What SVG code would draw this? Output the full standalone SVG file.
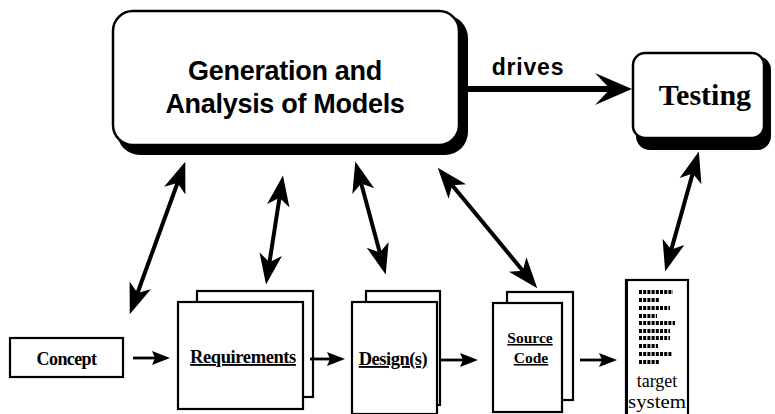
<svg xmlns="http://www.w3.org/2000/svg" width="775" height="414" viewBox="0 0 775 414">
<style>
.sans{font-family:"Liberation Sans",Arial,sans-serif;font-weight:bold;fill:#000}
.serif{font-family:"Liberation Serif","Times New Roman",serif;fill:#000}
.b{font-weight:bold}
.u{text-decoration:underline}
.box{fill:#fff;stroke:#000;stroke-width:2.5}
.shadow{fill:#000}
.page{fill:#fff;stroke:#000;stroke-width:2.2}
.bi{stroke:#000;stroke-width:4;fill:none;marker-start:url(#mb);marker-end:url(#mb)}
.h{stroke:#000;stroke-width:2.8;fill:none;marker-end:url(#mh)}
.code{stroke:#000;stroke-width:4;stroke-dasharray:3 1.2}
</style>
<defs>
<marker id="mb" markerUnits="userSpaceOnUse" markerWidth="40" markerHeight="40" refX="0" refY="0" viewBox="-10 -12 30 24" orient="auto-start-reverse" overflow="visible">
<path d="M17,0 L-6,-8.5 L0,0 L-6,8.5 Z" fill="#000"/>
</marker>
<marker id="mh" markerUnits="userSpaceOnUse" markerWidth="30" markerHeight="30" refX="0" refY="0" viewBox="-10 -10 30 20" orient="auto" overflow="visible">
<path d="M15,0 L-3,-7 L0,0 L-3,7 Z" fill="#000"/>
</marker>
<marker id="mbig" markerUnits="userSpaceOnUse" markerWidth="50" markerHeight="50" refX="0" refY="0" viewBox="-20 -20 50 40" orient="auto" overflow="visible">
<path d="M22,0 L-15,-16 L0,0 L-15,16 Z" fill="#000"/>
</marker>
</defs>

<g id="models">
<rect class="shadow" x="117" y="15" width="351" height="140" rx="23"/>
<rect class="box" x="113" y="11" width="346" height="134" rx="20"/>
<text class="sans" x="285" y="80" font-size="27" text-anchor="middle" letter-spacing="-0.3">Generation and</text>
<text class="sans" x="285" y="113" font-size="27" text-anchor="middle" letter-spacing="-0.3">Analysis of Models</text>
</g>

<g id="testing">
<rect class="shadow" x="636" y="56" width="135" height="94" rx="14"/>
<rect class="box" x="633" y="53" width="131" height="85" rx="12"/>
<text class="serif b" x="705" y="105" font-size="30" text-anchor="middle">Testing</text>
</g>

<g id="concept">
<rect class="page" x="10" y="338" width="113" height="39"/>
<text class="serif b" x="66.5" y="365" font-size="18" text-anchor="middle" letter-spacing="-0.6">Concept</text>
</g>

<g id="requirements">
<rect class="page" x="197" y="291" width="116" height="106"/>
<rect class="page" x="178" y="302" width="125" height="107"/>
<text class="serif b u" x="243" y="363" font-size="18.5" text-anchor="middle" letter-spacing="-0.4">Requirements</text>
</g>

<g id="designs">
<rect class="page" x="366" y="291" width="74" height="114"/>
<rect class="page" x="352" y="302" width="85" height="112"/>
<text class="serif b u" x="393" y="365" font-size="18.5" text-anchor="middle" letter-spacing="-0.5">Design(s)</text>
</g>

<g id="source">
<rect class="page" x="507" y="292" width="66" height="108"/>
<rect class="page" x="493" y="303" width="69" height="109"/>
<text class="serif b u" x="530" y="343" font-size="15.5" text-anchor="middle">Source</text>
<text class="serif b u" x="531" y="363" font-size="15.5" text-anchor="middle">Code</text>
</g>

<g id="target">
<rect class="page" x="626" y="280" width="62" height="140"/>
<line x1="626.5" y1="280" x2="626.5" y2="414" stroke="#000" stroke-width="3"/>
<g class="code">
<line x1="639" y1="292" x2="673" y2="292"/>
<line x1="639" y1="300" x2="659" y2="300"/>
<line x1="639" y1="308" x2="670" y2="308"/>
<line x1="639" y1="316" x2="657" y2="316"/>
<line x1="639" y1="323" x2="675" y2="323"/>
<line x1="639" y1="331" x2="670" y2="331"/>
<line x1="639" y1="338" x2="670" y2="338"/>
<line x1="639" y1="346" x2="658" y2="346"/>
<line x1="639" y1="354" x2="672" y2="354"/>
<line x1="639" y1="362" x2="660" y2="362"/>
</g>
<text class="serif" x="657" y="387" font-size="18" text-anchor="middle">target</text>
<text class="serif" x="628" y="408" font-size="19" textLength="58" lengthAdjust="spacingAndGlyphs">system</text>
</g>

<g id="connectors">
<line x1="468" y1="89" x2="610" y2="89" stroke="#000" stroke-width="6" marker-end="url(#mbig)"/>
<text class="sans" x="528" y="75" font-size="23" text-anchor="middle" letter-spacing="0.8">drives</text>
<line class="bi" x1="177.5" y1="183" x2="137.5" y2="293"/>
<line class="bi" x1="279.5" y1="197.8" x2="269.5" y2="262.2"/>
<line class="bi" x1="361.2" y1="183.4" x2="379.8" y2="252.6"/>
<line class="bi" x1="452.2" y1="185.3" x2="522.8" y2="270.7"/>
<line class="bi" x1="692.7" y1="173.4" x2="671.3" y2="249.6"/>
<line class="h" x1="133" y1="358" x2="155" y2="358"/>
<line class="h" x1="310" y1="359" x2="330" y2="359"/>
<line class="h" x1="440" y1="360" x2="463" y2="360"/>
<line class="h" x1="580" y1="360" x2="602" y2="360"/>
</g>
</svg>
